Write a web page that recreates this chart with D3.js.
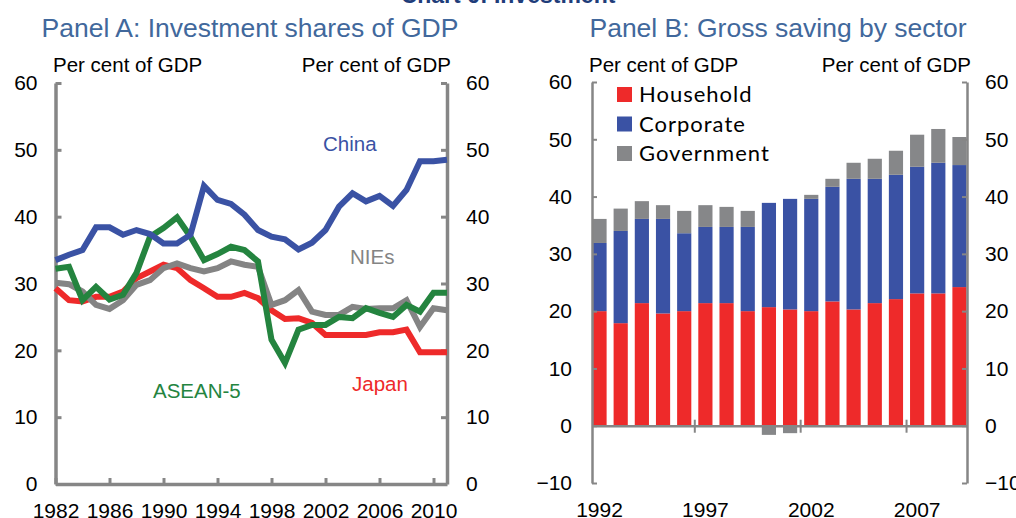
<!DOCTYPE html>
<html>
<head>
<meta charset="utf-8">
<script src="https://cdnjs.cloudflare.com/ajax/libs/d3/7.8.5/d3.min.js"></script>
<style>
body { margin: 0; background: #fff; }
svg { display: block; font-family: "Liberation Sans", Arial, sans-serif; }
.axis path.domain, .axis line { stroke: #868686; }
.axis text { fill: #000; font-size: 21px; font-family: "Liberation Sans", Arial, sans-serif; }
.unit { font-size: 20.5px; fill: #000; }
.ptitle { font-size: 26.5px; fill: #41689c; }
.series { fill: none; stroke-width: 6; stroke-linejoin: miter; stroke-miterlimit: 3; }
.lbl { font-size: 20.5px; }
.legend text { font-family: Lato, "Open Sans", sans-serif; font-size: 22px; letter-spacing: 1px; fill: #000; }
</style>
</head>
<body>
<div id="chart"></div>
<script>
// ---- Panel A: investment shares of GDP (per cent) ----
var yearsA = d3.range(1982, 2012);
var china  = [33.5,34.3,35.0,38.4,38.4,37.3,38.0,37.4,36.0,36.0,37.3,44.6,42.5,41.9,40.3,38.0,37.0,36.6,35.1,36.1,38.0,41.5,43.5,42.3,43.1,41.6,44.0,48.3,48.3,48.5];
var nies   = [30.1,29.9,28.8,26.8,26.2,27.5,29.8,30.5,32.3,33.0,32.3,31.8,32.3,33.3,32.8,32.5,26.8,27.5,29.0,25.8,25.3,25.3,26.5,26.2,26.3,26.3,27.5,23.5,26.3,26.0];
var asean5 = [32.2,32.5,27.5,29.5,27.6,28.3,31.6,37.0,38.3,39.9,37.0,33.5,34.4,35.5,35.0,33.3,21.6,18.1,23.1,23.8,23.8,25.0,24.8,26.3,25.6,25.0,26.8,25.8,28.6,28.6];
var japan  = [29.3,27.5,27.3,28.0,28.0,28.8,30.8,31.8,32.8,32.3,30.5,29.3,28.0,28.0,28.6,27.8,26.0,24.7,24.8,24.1,22.3,22.3,22.3,22.3,22.7,22.7,23.1,19.7,19.7,19.7];
var ticksA  = [0, 10, 20, 30, 40, 50, 60];
var yearTicksA = [1982, 1986, 1990, 1994, 1998, 2002, 2006, 2010];

// ---- Panel B: gross saving by sector (per cent of GDP) ----
var yearsB = d3.range(1992, 2010).map(String);
var household  = [20.0,17.9,21.4,19.6,20.0,21.4,21.4,20.0,20.7,20.3,20.0,21.7,20.3,21.4,22.1,23.1,23.1,24.2];
var corporate  = [11.9,16.1,14.7,16.5,13.6,13.3,13.3,14.7,18.2,19.3,19.6,20.0,22.8,21.7,21.7,22.1,22.8,21.3];
var government = [4.2,3.9,3.1,2.4,3.9,3.8,3.5,2.8,-1.6,-1.3,0.7,1.4,2.8,3.5,4.2,5.6,5.9,4.9];
var ticksB = [-10, 0, 10, 20, 30, 40, 50, 60];
var yearLabelsB = ["1992", "1997", "2002", "2007"];

var width = 1016, height = 518;
var svg = d3.select("#chart").append("svg")
    .attr("width", width)
    .attr("height", height);

svg.append("text")
    .attr("x", 508).attr("y", 3)
    .attr("text-anchor", "middle")
    .style("font-size", "23px").style("font-weight", "bold").style("fill", "#1f3d7a")
    .text("Chart 6: Investment");

// ================= Panel A =================
var xA = d3.scaleLinear().domain([1982, 2011]).range([55.5, 447]);
var yA = d3.scaleLinear().domain([0, 60]).range([484, 83]);

svg.append("text").attr("class", "ptitle")
    .attr("x", 250).attr("y", 37).attr("text-anchor", "middle")
    .text("Panel A: Investment shares of GDP");
svg.append("text").attr("class", "unit").attr("x", 53).attr("y", 72).text("Per  cent of GDP");
svg.append("text").attr("class", "unit").attr("x", 451).attr("y", 72).attr("text-anchor", "end").text("Per  cent of GDP");

var gA = svg.append("g");

var axL = gA.append("g").attr("class", "axis")
    .attr("transform", "translate(" + xA.range()[0] + ",0)")
    .call(d3.axisLeft(yA).tickValues(ticksA).tickSize(-6).tickSizeOuter(0).tickPadding(18));
var axR = gA.append("g").attr("class", "axis")
    .attr("transform", "translate(" + xA.range()[1] + ",0)")
    .call(d3.axisRight(yA).tickValues(ticksA).tickSize(-6).tickSizeOuter(0).tickPadding(19));
var axB = gA.append("g").attr("class", "axis")
    .attr("transform", "translate(0," + yA(0) + ")")
    .call(d3.axisBottom(xA).tickValues(yearTicksA).tickFormat(d3.format("d")).tickSize(-6).tickSizeOuter(0).tickPadding(19));
[axL, axR, axB].forEach(function(a) {
  a.select("path.domain").attr("stroke-width", 3.5);
  a.selectAll("line").attr("stroke-width", 3);
});

var line = d3.line()
    .x(function(d, i) { return xA(yearsA[i]); })
    .y(function(d) { return yA(d); });

var seriesA = [
  {name: "Japan",   data: japan,  color: "#ee2a2a", lx: 352, ly: 391},
  {name: "NIEs",    data: nies,   color: "#848484", lx: 350, ly: 264},
  {name: "ASEAN-5", data: asean5, color: "#24843f", lx: 153, ly: 398},
  {name: "China",   data: china,  color: "#3a52a4", lx: 323, ly: 151}
];
seriesA.forEach(function(s) {
  gA.append("path").datum(s.data)
    .attr("class", "series")
    .attr("stroke", s.color)
    .attr("d", line);
  gA.append("text").attr("class", "lbl")
    .attr("x", s.lx).attr("y", s.ly)
    .attr("fill", s.color)
    .text(s.name);
});

// ================= Panel B =================
var xB = d3.scaleBand().domain(yearsB).range([592, 967]).paddingInner(0.33).paddingOuter(0.02);
var yB = d3.scaleLinear().domain([-10, 60]).range([483, 82]);

svg.append("text").attr("class", "ptitle")
    .attr("x", 778).attr("y", 37).attr("text-anchor", "middle")
    .text("Panel B: Gross saving by sector");
svg.append("text").attr("class", "unit").attr("x", 589).attr("y", 72).text("Per  cent of GDP");
svg.append("text").attr("class", "unit").attr("x", 971).attr("y", 72).attr("text-anchor", "end").text("Per  cent of GDP");

var gB = svg.append("g");

var rows = yearsB.map(function(y, i) {
  return {year: y, Household: household[i], Corporate: corporate[i], Government: government[i]};
});
var keys = ["Household", "Corporate", "Government"];
var colors = {Household: "#ee2a2a", Corporate: "#3a52a4", Government: "#868789"};
var stacked = d3.stack().keys(keys).offset(d3.stackOffsetDiverging)(rows);

stacked.forEach(function(layer) {
  gB.append("g").attr("fill", colors[layer.key])
    .selectAll("rect").data(layer).enter().append("rect")
      .attr("x", function(d) { return xB(d.data.year); })
      .attr("width", xB.bandwidth())
      .attr("y", function(d) { return yB(Math.max(d[0], d[1])); })
      .attr("height", function(d) { return Math.abs(yB(d[0]) - yB(d[1])); });
});

var bL = gB.append("g").attr("class", "axis")
    .attr("transform", "translate(" + xB.range()[0] + ",0)")
    .call(d3.axisLeft(yB).tickValues(ticksB).tickSize(-5).tickSizeOuter(0).tickPadding(20));
var bR = gB.append("g").attr("class", "axis")
    .attr("transform", "translate(" + xB.range()[1] + ",0)")
    .call(d3.axisRight(yB).tickValues(ticksB).tickSize(-5).tickSizeOuter(0).tickPadding(18));
[bL, bR].forEach(function(a) {
  a.select("path.domain").attr("stroke-width", 2.5);
  a.selectAll("line").attr("stroke-width", 2);
});

// zero line with category-boundary ticks
var zero = gB.append("g").attr("class", "axis")
    .attr("transform", "translate(0," + yB(0) + ")")
    .call(d3.axisBottom(xB).tickValues([]).tickSizeOuter(0));
zero.select("path.domain").attr("stroke-width", 2.5);
var half = xB.step() * xB.paddingInner() / 2;
zero.selectAll("line.cross").data(yearLabelsB.slice(1)).enter().append("line")
    .attr("class", "cross")
    .attr("x1", function(d) { return xB(d) - half; })
    .attr("x2", function(d) { return xB(d) - half; })
    .attr("y1", -6).attr("y2", 7)
    .attr("stroke-width", 2);

// year labels under the frame
gB.append("g").attr("class", "axis")
    .attr("transform", "translate(0," + yB(-10) + ")")
    .call(d3.axisBottom(xB).tickValues(yearLabelsB).tickSize(0).tickPadding(19))
    .call(function(g) { g.select("path.domain").remove(); });

// legend
var legend = svg.append("g").attr("class", "legend")
    .attr("transform", "translate(617,87)");
keys.forEach(function(k, i) {
  var row = legend.append("g").attr("transform", "translate(0," + (i * 29.5) + ")");
  row.append("rect").attr("width", 15).attr("height", 15).attr("fill", colors[k]);
  row.append("text").attr("x", 22).attr("y", 15).text(k);
});
</script>
</body>
</html>
